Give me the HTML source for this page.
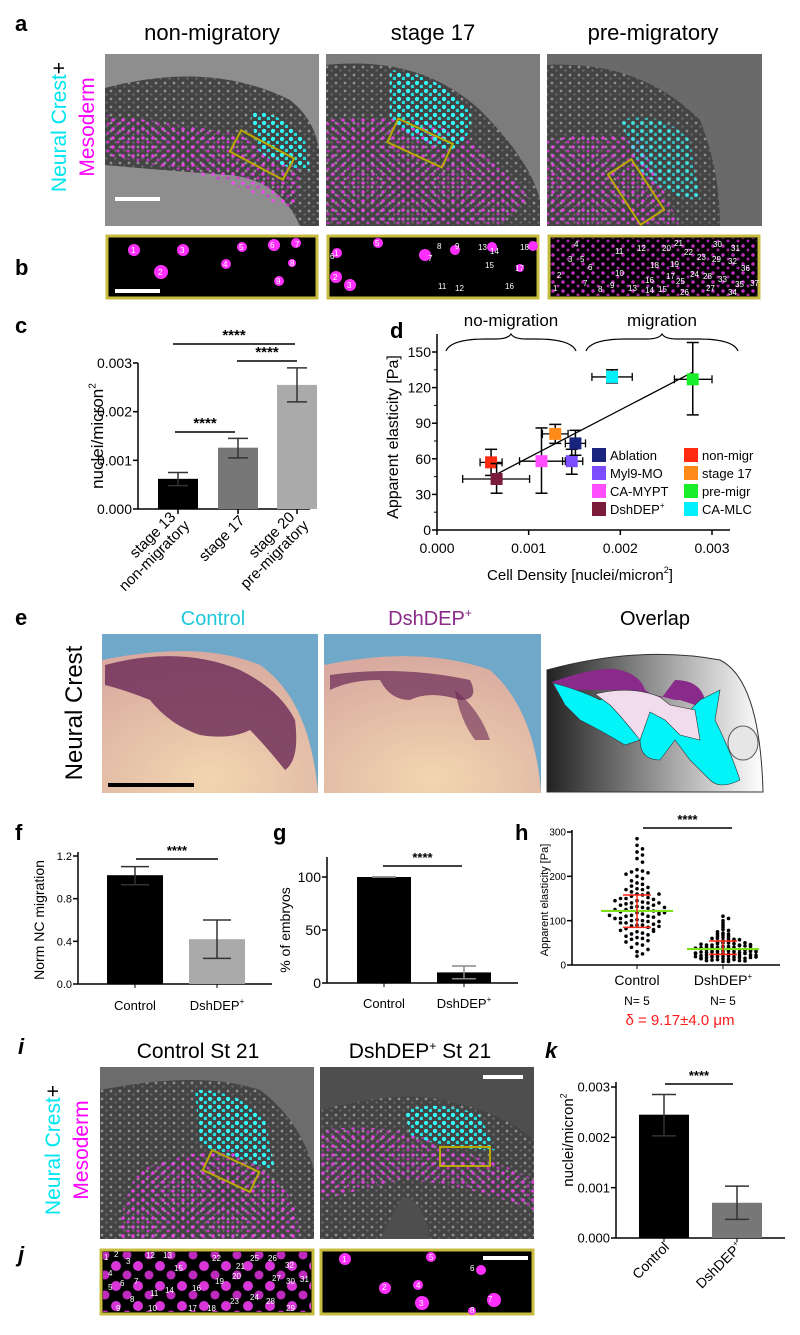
<!DOCTYPE html>
<html><head><meta charset="utf-8"><style>
body{margin:0;background:#fff}
svg text{font-family:"Liberation Sans",Arial,sans-serif}
</style></head><body>
<svg id="fig" width="800" height="1330" viewBox="0 0 800 1330" xmlns="http://www.w3.org/2000/svg">
<defs>
<pattern id="pw" width="9" height="8" patternUnits="userSpaceOnUse"><rect width="9" height="8" fill="#444"/><circle cx="3" cy="3" r="1.4" fill="#ccc" opacity=".55"/><circle cx="7.5" cy="6.5" r="1.1" fill="#999" opacity=".5"/></pattern>
<pattern id="pm" width="10" height="9" patternUnits="userSpaceOnUse"><circle cx="3" cy="3" r="1.8" fill="#ff40ff"/><circle cx="8" cy="7" r="1.5" fill="#e030e0"/></pattern>
<pattern id="pmj" width="22" height="20" patternUnits="userSpaceOnUse"><circle cx="6" cy="6" r="5" fill="#ff40ff"/><circle cx="17" cy="15" r="4.5" fill="#e030e0"/></pattern>
<pattern id="pc" width="9" height="8" patternUnits="userSpaceOnUse"><circle cx="3" cy="3" r="2.1" fill="#30ffff"/><circle cx="7.5" cy="6.5" r="1.8" fill="#20e0e0"/></pattern>
<linearGradient id="gov" x1="0" y1="0" x2="1" y2="0"><stop offset="0" stop-color="#222"/><stop offset="0.6" stop-color="#aaa"/><stop offset="1" stop-color="#fff"/></linearGradient>
<radialGradient id="gemb" cx="0.5" cy="0.9" r="0.9"><stop offset="0" stop-color="#f2d6b0"/><stop offset="1" stop-color="#d8aaa0"/></radialGradient>
</defs>

<!-- ===== Panel a ===== -->
<text x="15" y="31" font-size="22" font-weight="bold">a</text>
<text x="212" y="40" font-size="22" text-anchor="middle">non-migratory</text>
<text x="433" y="40" font-size="22" text-anchor="middle">stage 17</text>
<text x="653" y="40" font-size="22" text-anchor="middle">pre-migratory</text>
<text transform="translate(66,127) rotate(-90)" font-size="21" fill="#00e5f0" text-anchor="middle">Neural Crest<tspan fill="#000">+</tspan></text>
<text transform="translate(94,127) rotate(-90)" font-size="21" fill="#ff00ff" text-anchor="middle">Mesoderm</text>

<g>
<rect x="105" y="54" width="214" height="172" fill="#8e8e8e"/>
<path d="M105,88 Q210,60 290,100 Q315,120 319,150 L319,226 L300,226 Q280,180 230,175 Q160,170 105,165Z" fill="url(#pw)"/>
<path d="M105,115 Q190,125 240,135 L300,170 Q300,200 290,210 Q230,180 180,170 Q130,160 105,155Z" fill="url(#pm)" opacity=".85"/>
<path d="M250,112 Q280,110 305,140 L310,170 Q280,170 258,150Z" fill="url(#pc)"/>
<rect x="232" y="143" width="60" height="24" fill="none" stroke="#b8a800" stroke-width="2" transform="rotate(28 262 155)"/>
<rect x="115" y="197" width="45" height="4" fill="#fff"/>
</g>
<g>
<rect x="326" y="54" width="214" height="172" fill="#7c7c7c"/>
<path d="M326,65 Q420,55 480,110 Q530,160 540,200 L540,226 L326,226Z" fill="url(#pw)"/>
<path d="M326,120 Q420,110 470,140 Q510,170 530,200 L500,226 L326,226Z" fill="url(#pm)" opacity=".8"/>
<path d="M390,70 Q440,75 470,110 Q475,140 450,150 Q410,140 390,120Z" fill="url(#pc)"/>
<rect x="390" y="130" width="60" height="26" fill="none" stroke="#b8a800" stroke-width="2" transform="rotate(25 420 143)"/>
</g>
<g>
<rect x="547" y="54" width="215" height="172" fill="#6a6a6a"/>
<path d="M547,65 Q640,60 700,120 Q720,170 720,226 L547,226Z" fill="url(#pw)"/>
<path d="M547,140 Q600,130 640,140 L680,226 L547,226Z" fill="url(#pm)" opacity=".8"/>
<path d="M620,120 Q660,110 690,140 L700,200 Q670,200 640,170Z" fill="url(#pc)" opacity=".7"/>
<rect x="622" y="162" width="28" height="60" fill="none" stroke="#b8a800" stroke-width="2" transform="rotate(-33 636 192)"/>
</g>

<!-- ===== Panel b ===== -->
<text x="15" y="275" font-size="22" font-weight="bold">b</text>
<g>
<rect x="107" y="236" width="210" height="62" fill="#000" stroke="#c8bc40" stroke-width="3"/>
<circle cx="134" cy="250" r="6" fill="#ff30ff"/><circle cx="161" cy="272" r="7" fill="#ff30ff"/><circle cx="183" cy="250" r="6" fill="#ff30ff"/>
<circle cx="226" cy="264" r="5" fill="#ff30ff"/><circle cx="242" cy="247" r="5" fill="#ff30ff"/><circle cx="274" cy="245" r="6" fill="#ff30ff"/><circle cx="296" cy="243" r="5" fill="#ff30ff"/><circle cx="292" cy="263" r="4" fill="#ff30ff"/><circle cx="279" cy="281" r="5" fill="#ff30ff"/>
<rect x="115" y="289" width="45" height="4" fill="#fff"/>
</g>
<g>
<rect x="328" y="236" width="210" height="62" fill="#000" stroke="#c8bc40" stroke-width="3"/>
<circle cx="337" cy="253" r="5" fill="#ff30ff"/><circle cx="336" cy="277" r="6" fill="#ff30ff"/><circle cx="350" cy="285" r="6" fill="#ff30ff"/><circle cx="378" cy="243" r="5" fill="#ff30ff"/><circle cx="425" cy="255" r="6" fill="#ff30ff"/><circle cx="455" cy="250" r="5" fill="#ff30ff"/><circle cx="492" cy="247" r="5" fill="#ff30ff"/><circle cx="533" cy="246" r="5" fill="#ff30ff"/><circle cx="520" cy="268" r="4" fill="#ff30ff"/>
</g>
<g>
<rect x="549" y="236" width="210" height="62" fill="#000" stroke="#c8bc40" stroke-width="3"/>
<rect x="551" y="238" width="206" height="58" fill="url(#pm)" opacity=".75"/>
</g>
<g font-size="8" fill="#fff">
<text x="131" y="253">1</text><text x="158" y="275">2</text><text x="180" y="253">3</text><text x="223" y="267">4</text><text x="239" y="250">5</text><text x="270" y="248">6</text><text x="295" y="247">7</text><text x="290" y="266">8</text><text x="276" y="284">9</text>
<text x="334" y="256">1</text><text x="333" y="280">2</text><text x="347" y="288">3</text><text x="375" y="246">5</text><text x="330" y="259">6</text><text x="428" y="261">7</text><text x="437" y="249">8</text><text x="455" y="249">9</text><text x="478" y="250">13</text><text x="490" y="254">14</text><text x="485" y="268">15</text><text x="520" y="250">18</text><text x="515" y="271">17</text><text x="505" y="289">16</text><text x="438" y="289">11</text><text x="455" y="291">12</text>
<text x="574" y="247">4</text><text x="568" y="262">3</text><text x="580" y="262">5</text><text x="557" y="278">2</text><text x="553" y="291">1</text><text x="615" y="254">11</text><text x="637" y="251">12</text><text x="662" y="251">20</text><text x="674" y="246">21</text><text x="684" y="255">22</text><text x="697" y="260">23</text><text x="712" y="262">29</text><text x="713" y="247">30</text><text x="731" y="251">31</text><text x="728" y="264">32</text><text x="741" y="271">36</text><text x="615" y="276">10</text><text x="650" y="268">18</text><text x="670" y="267">19</text><text x="666" y="279">17</text><text x="645" y="283">16</text><text x="676" y="284">25</text><text x="690" y="277">24</text><text x="703" y="279">28</text><text x="718" y="282">33</text><text x="735" y="287">35</text><text x="750" y="286">37</text><text x="610" y="288">9</text><text x="628" y="291">13</text><text x="645" y="293">14</text><text x="658" y="292">15</text><text x="680" y="295">26</text><text x="706" y="291">27</text><text x="728" y="295">34</text><text x="583" y="286">7</text><text x="598" y="292">8</text><text x="588" y="270">6</text>
</g>

<!-- ===== Panel c ===== -->
<text x="15" y="333" font-size="22" font-weight="bold">c</text>
<g id="chartC"></g>

<!-- ===== Panel d ===== -->
<text x="390" y="338" font-size="22" font-weight="bold">d</text>
<g id="chartD"></g>

<!-- ===== Panel e ===== -->
<text x="15" y="625" font-size="22" font-weight="bold">e</text>
<text x="213" y="625" font-size="20" fill="#1fc8d8" text-anchor="middle">Control</text>
<text x="430" y="625" font-size="20" fill="#8a2a8a" text-anchor="middle">DshDEP<tspan font-size="12" dy="-8">+</tspan></text>
<text x="655" y="625" font-size="20" text-anchor="middle">Overlap</text>
<text transform="translate(82,713) rotate(-90)" font-size="24" text-anchor="middle">Neural Crest</text>
<g>
<rect x="102" y="634" width="216" height="159" fill="#6fa8c8"/>
<path d="M102,660 Q200,640 260,665 Q310,700 318,793 L102,793Z" fill="url(#gemb)"/>
<path d="M105,665 Q180,645 240,670 Q280,690 295,720 Q300,760 285,770 Q265,745 250,730 Q230,740 200,735 Q170,725 150,700 Q125,690 105,685Z" fill="#6a2856" opacity=".8"/>
<rect x="108" y="783" width="86" height="4" fill="#000"/>
</g>
<g>
<rect x="324" y="634" width="217" height="159" fill="#6fa8c8"/>
<path d="M324,665 Q420,645 490,670 Q535,710 541,793 L324,793Z" fill="url(#gemb)"/>
<path d="M330,675 Q400,665 470,680 Q480,700 460,700 Q430,690 410,700 Q390,700 380,680 Q350,680 330,690Z" fill="#6a2856" opacity=".7"/>
<path d="M455,690 Q480,710 490,740 L475,740 Q460,720 455,690Z" fill="#6a2856" opacity=".6"/>
</g>
<g>
<path d="M547,670 Q640,645 720,660 Q760,680 763,792 L547,792Z" fill="url(#gov)" stroke="#333"/>
<path d="M552,682 Q600,665 620,670 Q640,675 645,690 L660,700 L675,680 Q700,680 705,700 L695,705 L680,700 L675,700 Q640,690 610,690 Q580,690 556,690Z" fill="#8a2a8a"/>
<path d="M553,683 Q580,690 600,700 Q620,690 640,698 L665,705 L680,720 L700,700 L720,690 L715,720 Q730,750 740,780 Q720,790 710,780 L690,760 L675,740 L660,760 Q640,760 640,740 L625,745 Q600,730 580,720 L565,705Z" fill="#00f4f8" stroke="#333" stroke-width=".6"/>
<path d="M595,694 Q630,685 660,697 L670,705 L695,710 L700,740 L680,735 L665,720 L650,712 L640,740 Q620,715 610,705Z" fill="#f0dcec" stroke="#333" stroke-width=".6"/>
<ellipse cx="743" cy="743" rx="15" ry="17" fill="#e6e6e6" stroke="#555"/>
</g>

<!-- ===== Panels f g h ===== -->
<text x="15" y="840" font-size="22" font-weight="bold">f</text>
<text x="273" y="840" font-size="22" font-weight="bold">g</text>
<text x="515" y="840" font-size="22" font-weight="bold">h</text>
<g id="chartF"></g>
<g id="chartG"></g>
<g id="chartH"></g>

<!-- ===== Panel i / j ===== -->
<text x="18" y="1054" font-size="22" font-weight="bold" font-style="italic">i</text>
<text x="198" y="1058" font-size="21" text-anchor="middle">Control St 21</text>
<text x="420" y="1058" font-size="21" text-anchor="middle">DshDEP<tspan font-size="12" dy="-8">+</tspan><tspan dy="8"> St 21</tspan></text>
<text transform="translate(60,1150) rotate(-90)" font-size="21" fill="#00e5f0" text-anchor="middle">Neural Crest<tspan fill="#000">+</tspan></text>
<text transform="translate(88,1150) rotate(-90)" font-size="21" fill="#ff00ff" text-anchor="middle">Mesoderm</text>
<g>
<rect x="100" y="1067" width="214" height="172" fill="#6c6c6c"/>
<path d="M100,1090 Q200,1070 260,1090 Q300,1120 314,1170 L314,1239 L100,1239Z" fill="url(#pw)"/>
<path d="M140,1170 Q190,1150 230,1150 L280,1180 Q300,1210 300,1239 L120,1239 Q120,1200 140,1170Z" fill="url(#pm)" opacity=".85"/>
<path d="M195,1090 Q240,1090 265,1120 L275,1170 Q240,1160 200,1145Z" fill="url(#pc)"/>
<rect x="205" y="1160" width="52" height="22" fill="none" stroke="#b8a800" stroke-width="2" transform="rotate(25 231 1171)"/>
</g>
<g>
<rect x="320" y="1067" width="214" height="172" fill="#4e4e4e"/>
<path d="M320,1110 Q400,1090 440,1100 Q500,1110 534,1140 L534,1239 L430,1239 Q420,1190 400,1200 L380,1239 L320,1239Z" fill="url(#pw)"/>
<path d="M320,1130 Q400,1120 450,1150 Q500,1160 534,1180 L534,1210 Q450,1180 400,1180 L320,1200Z" fill="url(#pm)" opacity=".8"/>
<path d="M405,1110 Q440,1100 480,1115 L495,1150 Q450,1150 410,1135Z" fill="url(#pc)"/>
<rect x="440" y="1147" width="50" height="19" fill="none" stroke="#b8a800" stroke-width="2"/>
<rect x="483" y="1075" width="40" height="4" fill="#fff"/>
</g>
<text x="18" y="1262" font-size="22" font-weight="bold" font-style="italic">j</text>
<g>
<rect x="101" y="1250" width="212" height="64" fill="#000" stroke="#c8bc40" stroke-width="3"/>
<rect x="103" y="1252" width="208" height="60" fill="url(#pmj)" opacity=".85"/>
</g>
<g>
<rect x="321" y="1250" width="212" height="64" fill="#000" stroke="#c8bc40" stroke-width="3"/>
<circle cx="345" cy="1259" r="6" fill="#ff30ff"/><circle cx="385" cy="1288" r="6" fill="#ff30ff"/><circle cx="422" cy="1303" r="7" fill="#ff30ff"/><circle cx="418" cy="1285" r="5" fill="#ff30ff"/><circle cx="431" cy="1257" r="5" fill="#ff30ff"/><circle cx="481" cy="1270" r="5" fill="#ff30ff"/><circle cx="494" cy="1300" r="7" fill="#ff30ff"/><circle cx="472" cy="1311" r="4" fill="#ff30ff"/>
<rect x="483" y="1256" width="45" height="4" fill="#fff"/>
</g>
<g font-size="8" fill="#fff">
<text x="104" y="1260">1</text><text x="114" y="1257">2</text><text x="126" y="1264">3</text><text x="146" y="1258">12</text><text x="163" y="1258">13</text><text x="174" y="1271">15</text><text x="212" y="1261">22</text><text x="250" y="1261">25</text><text x="268" y="1261">26</text><text x="285" y="1268">32</text><text x="236" y="1269">21</text>
<text x="108" y="1290">5</text><text x="120" y="1286">6</text><text x="134" y="1284">7</text><text x="108" y="1276">4</text><text x="150" y="1296">11</text><text x="165" y="1293">14</text><text x="192" y="1291">16</text><text x="215" y="1284">19</text><text x="232" y="1279">20</text><text x="272" y="1281">27</text><text x="286" y="1284">30</text><text x="300" y="1282">31</text><text x="130" y="1302">8</text>
<text x="116" y="1311">9</text><text x="148" y="1311">10</text><text x="188" y="1311">17</text><text x="207" y="1311">18</text><text x="230" y="1304">23</text><text x="250" y="1300">24</text><text x="266" y="1304">28</text><text x="286" y="1311">29</text>
<text x="342" y="1262">1</text><text x="382" y="1290">2</text><text x="419" y="1306">3</text><text x="416" y="1288">4</text><text x="429" y="1260">5</text><text x="470" y="1271">6</text><text x="488" y="1302">7</text><text x="470" y="1313">8</text>
</g>

<!-- ===== Panel k ===== -->
<text x="545" y="1058" font-size="22" font-weight="bold" font-style="italic">k</text>
<g id="chartK"></g>
</svg>

<script>
// ---------- DATA ----------
const cCats = ["stage 13|non-migratory","stage 17","stage 20|pre-migratory"];
const cVals = [0.00062,0.00126,0.00255];
const cErrLo = [0.00048,0.00105,0.0022];
const cErrHi = [0.00075,0.00145,0.0029];
const cTicks = [0,0.001,0.002,0.003];

const dNames = ["non-migr","DshDEP+","CA-MYPT","stage 17","Myl9-MO","Ablation","CA-MLC","pre-migr"];
const dX = [0.00059,0.00065,0.00114,0.00129,0.00147,0.00151,0.00191,0.00279];
const dY = [57,43,58,81,58,73,129,127];
const dXlo = [0.00047,0.00028,0.00090,0.00115,0.00137,0.00140,0.00169,0.00259];
const dXhi = [0.00071,0.00101,0.00140,0.00143,0.00159,0.00162,0.00213,0.00300];
const dYlo = [46,31,31,73,47,63,124,97];
const dYhi = [68,56,86,89,68,84,135,158];
const dXTicks = [0,0.001,0.002,0.003];
const dYTicks = [0,30,60,90,120,150];
const dFit = [[0.00065,47],[0.00279,133]];

const fCats = ["Control","DshDEP+"];
const fVals = [1.02,0.42];
const fErrLo = [0.93,0.24];
const fErrHi = [1.10,0.60];
const fTicks = [0,0.4,0.8,1.2];

const gVals = [100,10];
const gErrLo = [100,4];
const gErrHi = [100,16];
const gTicks = [0,50,100];

const hCtrl = [285,270,262,255,248,240,232,215,212,210,208,205,200,195,190,185,182,178,175,172,170,165,162,160,158,155,152,150,148,145,142,140,140,138,135,132,130,130,128,125,122,120,120,118,115,112,110,110,108,105,102,100,100,98,95,92,90,90,88,85,82,80,78,75,72,70,68,65,62,60,58,55,52,48,45,40,35,30,25,20,150,135,125,115,105,95,160,170,140,130,145,118,112,98,87,76];
const hDsh = [110,105,100,95,90,85,80,78,75,72,70,68,65,62,60,60,58,55,55,52,50,50,48,48,45,45,45,42,42,40,40,40,38,38,36,36,35,35,34,33,32,32,30,30,30,28,28,27,26,25,25,24,23,22,22,20,20,19,18,18,17,16,15,15,14,13,12,12,11,10,10,9,8,8,60,55,50,44,41,37,33,29,26,21,17,14,70,65,57,47,43,39,31,27,23,19,46,42,38,34,30,26,22,18];
const hMean = [122,36];
const hSdLo = [85,24];
const hSdHi = [158,54];
const hTicks = [0,100,200,300];

const kVals = [0.00245,0.0007];
const kErrLo = [0.00203,0.00037];
const kErrHi = [0.00285,0.00103];
const kTicks = [0,0.001,0.002,0.003];

// ---------- helpers ----------
const NS="http://www.w3.org/2000/svg";
function mk(parent,tag,attrs,txt){const e=document.createElementNS(NS,tag);for(const k in attrs)e.setAttribute(k,attrs[k]);if(txt!==undefined)e.textContent=txt;parent.appendChild(e);return e;}
function lin(d0,d1,r0,r1){return v=>r0+(v-d0)*(r1-r0)/(d1-d0);}
function errbar(g,x,y1,y2,w,col){mk(g,"line",{x1:x,x2:x,y1:y1,y2:y2,stroke:col,"stroke-width":1.5});mk(g,"line",{x1:x-w,x2:x+w,y1:y1,y2:y1,stroke:col,"stroke-width":1.5});mk(g,"line",{x1:x-w,x2:x+w,y1:y2,y2:y2,stroke:col,"stroke-width":1.5});}
function yAxis(g,x,yTop,yBot,ticks,sy,fmt,fs){
  mk(g,"line",{x1:x,x2:x,y1:yTop,y2:yBot,stroke:"#000","stroke-width":1.5});
  ticks.forEach(t=>{const y=sy(t);mk(g,"line",{x1:x-5,x2:x,y1:y,y2:y,stroke:"#000","stroke-width":1.5});
    const tx=mk(g,"text",{x:x-6,y:y+fs*0.36,"font-size":fs,"text-anchor":"end"},fmt(t));
    
    });
}
function sig(g,x1,x2,y,fs){mk(g,"line",{x1:x1,x2:x2,y1:y,y2:y,stroke:"#000","stroke-width":1.5});mk(g,"text",{x:(x1+x2)/2,y:y-4,"font-size":fs||14,"text-anchor":"middle","font-weight":"bold"},"****");}
function supText(g,x,y,fs,main,sup){const t=mk(g,"text",{transform:`translate(${x},${y}) rotate(-90)`,"font-size":fs,"text-anchor":"middle"},main);mk(t,"tspan",{"font-size":fs*0.6,dy:-fs*0.45},sup);return t;}

// ---------- chart c ----------
(function(){
  const g=document.getElementById("chartC");
  const sy=lin(0,0.003,509,363);
  const xs=[178,238,297];
  const ax=138;
  mk(g,"line",{x1:ax,x2:310,y1:509,y2:509,stroke:"#000","stroke-width":1.5});
  yAxis(g,ax,363,509,cTicks,sy,t=>t.toFixed(3),14);
  const cols=["#000","#777","#aaa"];
  cVals.forEach((v,i)=>{
    const b=mk(g,"rect",{x:xs[i]-20,y:sy(v),width:40,height:509-sy(v),fill:cols[i]});
    
    
    errbar(g,xs[i],sy(cErrHi[i]),sy(cErrLo[i]),10,"#333");
    mk(g,"line",{x1:xs[i],x2:xs[i],y1:509,y2:514,stroke:"#000","stroke-width":1.5});
    const parts=cCats[i].split("|");
    const t=mk(g,"text",{transform:`translate(${xs[i]+4},${518}) rotate(-45)`,"font-size":15,"text-anchor":"end"});
    
    
    if(parts.length===1){mk(t,"tspan",{x:0,dy:5},parts[0]);}
    else{mk(t,"tspan",{x:-4,dy:-4},parts[0]);mk(t,"tspan",{x:0,dy:16},parts[1]);}
  });
  sig(g,173,295,344,15); sig(g,237,297,361,15); sig(g,175,235,432,15);
  supText(g,103,436,17,"nuclei/micron","2");
})();

// ---------- chart d ----------
(function(){
  const g=document.getElementById("chartD");
  const sx=lin(0,0.003,437,712), sy=lin(0,150,530,352);
  yAxis(g,437,334,530,dYTicks,sy,t=>String(t),14);
  mk(g,"line",{x1:437,x2:730,y1:530,y2:530,stroke:"#000","stroke-width":1.5});
  dXTicks.forEach(t=>{const x=sx(t);mk(g,"line",{x1:x,x2:x,y1:530,y2:535,stroke:"#000","stroke-width":1.5});
    const tx=mk(g,"text",{x:x,y:553,"font-size":14,"text-anchor":"middle"},t.toFixed(3));
    
    });
  for(let v=15;v<150;v+=30){mk(g,"line",{x1:434,x2:437,y1:sy(v),y2:sy(v),stroke:"#000"});}
  mk(g,"line",{x1:sx(dFit[0][0]),y1:sy(dFit[0][1]),x2:sx(dFit[1][0]),y2:sy(dFit[1][1]),stroke:"#000","stroke-width":1.3});
  const cols={"Ablation":"#1a237e","Myl9-MO":"#7c4dff","CA-MYPT":"#ff4dff","DshDEP+":"#7b1b3a","non-migr":"#ff2a10","stage 17":"#ff8a1a","pre-migr":"#1aee2a","CA-MLC":"#00f0ff"};
  dNames.forEach((n,i)=>{
    const x=sx(dX[i]),y=sy(dY[i]);
    mk(g,"line",{x1:sx(dXlo[i]),x2:sx(dXhi[i]),y1:y,y2:y,stroke:"#000","stroke-width":1.3});
    mk(g,"line",{x1:sx(dXlo[i]),x2:sx(dXlo[i]),y1:y-4,y2:y+4,stroke:"#000","stroke-width":1.3});
    mk(g,"line",{x1:sx(dXhi[i]),x2:sx(dXhi[i]),y1:y-4,y2:y+4,stroke:"#000","stroke-width":1.3});
    errbar(g,x,sy(dYhi[i]),sy(dYlo[i]),6,"#000");
    const p=mk(g,"rect",{x:x-6,y:y-6,width:12,height:12,fill:cols[n]});
    
    
  });
  const leg=[["Ablation",592,455],["Myl9-MO",592,473],["CA-MYPT",592,491],["DshDEP+",592,509],["non-migr",684,455],["stage 17",684,473],["pre-migr",684,491],["CA-MLC",684,509]];
  leg.forEach(l=>{
    const e=mk(g,"g",{});
    
    
    mk(e,"rect",{x:l[1],y:l[2]-7,width:14,height:14,fill:cols[l[0]]});
    const t=mk(e,"text",{x:l[1]+18,y:l[2]+5,"font-size":13},l[0]==="DshDEP+"?"DshDEP":l[0]);
    if(l[0]==="DshDEP+"){mk(t,"tspan",{"font-size":8,dy:-6},"+");}
  });
  function brace(x1,x2,y){const m=(x1+x2)/2;mk(g,"path",{d:`M${x1},${y+12} Q${x1+5},${y} ${x1+40},${y} L${m-15},${y} Q${m-3},${y} ${m},${y-5} Q${m+3},${y} ${m+15},${y} L${x2-40},${y} Q${x2-5},${y} ${x2},${y+12}`,fill:"none",stroke:"#000","stroke-width":1.2});}
  brace(446,576,339); brace(586,738,339);
  mk(g,"text",{x:511,y:326,"font-size":17,"text-anchor":"middle"},"no-migration");
  mk(g,"text",{x:662,y:326,"font-size":17,"text-anchor":"middle"},"migration");
  const yt=mk(g,"text",{transform:"translate(398,437) rotate(-90)","font-size":16,"text-anchor":"middle"},"Apparent elasticity [Pa]");
  
  
  const xt=mk(g,"text",{x:580,y:580,"font-size":15,"text-anchor":"middle"},"Cell Density [nuclei/micron");
  mk(xt,"tspan",{"font-size":9,dy:-7},"2");mk(xt,"tspan",{dy:7},"]");
  
  
})();

// ---------- chart f ----------
(function(){
  const g=document.getElementById("chartF");
  const sy=lin(0,1.2,984,856);
  const xs=[135,217];
  yAxis(g,78,852,984,fTicks,sy,t=>t.toFixed(1),11);
  mk(g,"line",{x1:78,x2:272,y1:984,y2:984,stroke:"#000","stroke-width":1.5});
  const cols=["#000","#aaa"];
  fVals.forEach((v,i)=>{
    const b=mk(g,"rect",{x:xs[i]-28,y:sy(v),width:56,height:984-sy(v),fill:cols[i]});
    
    
    errbar(g,xs[i],sy(fErrHi[i]),sy(fErrLo[i]),14,"#333");
    mk(g,"line",{x1:xs[i],x2:xs[i],y1:984,y2:988,stroke:"#000"});
  });
  sig(g,136,218,859,13);
  mk(g,"text",{x:135,y:1010,"font-size":13,"text-anchor":"middle"},"Control");
  const t=mk(g,"text",{x:217,y:1010,"font-size":13,"text-anchor":"middle"},"DshDEP");mk(t,"tspan",{"font-size":8,dy:-6},"+");
  mk(g,"text",{transform:"translate(44,920) rotate(-90)","font-size":14,"text-anchor":"middle"},"Norm NC migration");
})();

// ---------- chart g ----------
(function(){
  const g=document.getElementById("chartG");
  const sy=lin(0,100,983,877);
  const xs=[384,464];
  yAxis(g,327,857,983,gTicks,sy,t=>String(t),14);
  mk(g,"line",{x1:327,x2:518,y1:983,y2:983,stroke:"#000","stroke-width":1.5});
  gVals.forEach((v,i)=>{
    const b=mk(g,"rect",{x:xs[i]-27,y:sy(v),width:54,height:983-sy(v),fill:"#000"});
    
    
    errbar(g,xs[i],sy(gErrHi[i]),sy(gErrLo[i]),12,"#888");
    mk(g,"line",{x1:xs[i],x2:xs[i],y1:983,y2:987,stroke:"#000"});
  });
  sig(g,383,462,866,13);
  mk(g,"text",{x:384,y:1008,"font-size":13,"text-anchor":"middle"},"Control");
  const t=mk(g,"text",{x:464,y:1008,"font-size":13,"text-anchor":"middle"},"DshDEP");mk(t,"tspan",{"font-size":8,dy:-6},"+");
  mk(g,"text",{transform:"translate(290,930) rotate(-90)","font-size":14,"text-anchor":"middle"},"% of embryos");
})();

// ---------- chart h ----------
(function(){
  const g=document.getElementById("chartH");
  const sy=lin(0,300,965,832);
  const xs=[637,723];
  yAxis(g,572,830,965,hTicks,sy,t=>String(t),10);
  mk(g,"line",{x1:572,x2:780,y1:965,y2:965,stroke:"#000","stroke-width":1.5});
  const binSize=[14,6];
  [hCtrl,hDsh].forEach((arr,i)=>{
    const bins={};
    arr.forEach(v=>{
      const b=Math.round(v/binSize[i]);const k=bins[b]||0;bins[b]=k+1;
      const off=(k%2?1:-1)*Math.ceil(k/2)*5.5;
      const c=mk(g,"circle",{cx:xs[i]+off,cy:sy(v),r:1.8,fill:"#000"});
      
      
    });
    mk(g,"line",{x1:xs[i]-36,x2:xs[i]+36,y1:sy(hMean[i]),y2:sy(hMean[i]),stroke:"#7fe020","stroke-width":2.2});
    errbar(g,xs[i],sy(hSdHi[i]),sy(hSdLo[i]),14,"#ff2a1a");
    mk(g,"line",{x1:xs[i],x2:xs[i],y1:965,y2:969,stroke:"#000"});
  });
  sig(g,643,732,828,13);
  mk(g,"text",{x:637,y:985,"font-size":14,"text-anchor":"middle"},"Control");
  const t=mk(g,"text",{x:723,y:985,"font-size":14,"text-anchor":"middle"},"DshDEP");mk(t,"tspan",{"font-size":8,dy:-6},"+");
  mk(g,"text",{x:637,y:1005,"font-size":12,"text-anchor":"middle"},"N= 5");
  mk(g,"text",{x:723,y:1005,"font-size":12,"text-anchor":"middle"},"N= 5");
  mk(g,"text",{x:680,y:1025,"font-size":15,"text-anchor":"middle",fill:"#ff1a1a"},"δ =  9.17±4.0 μm");
  mk(g,"text",{transform:"translate(548,900) rotate(-90)","font-size":11,"text-anchor":"middle"},"Apparent elasticity [Pa]");
})();

// ---------- chart k ----------
(function(){
  const g=document.getElementById("chartK");
  const sy=lin(0,0.003,1238,1087);
  const xs=[664,737];
  yAxis(g,616,1082,1238,kTicks,sy,t=>t.toFixed(3),13);
  mk(g,"line",{x1:616,x2:785,y1:1238,y2:1238,stroke:"#000","stroke-width":1.5});
  const cols=["#000","#777"];
  kVals.forEach((v,i)=>{
    const b=mk(g,"rect",{x:xs[i]-25,y:sy(v),width:50,height:1238-sy(v),fill:cols[i]});
    
    
    errbar(g,xs[i],sy(kErrHi[i]),sy(kErrLo[i]),12,"#333");
    mk(g,"line",{x1:xs[i],x2:xs[i],y1:1238,y2:1242,stroke:"#000"});
  });
  sig(g,665,733,1084,13);
  mk(g,"text",{transform:`translate(${xs[0]+6},1248) rotate(-45)`,"font-size":14,"text-anchor":"end"},"Control");
  const t=mk(g,"text",{transform:`translate(${xs[1]+6},1248) rotate(-45)`,"font-size":14,"text-anchor":"end"},"DshDEP");mk(t,"tspan",{"font-size":8,dy:-6},"+");
  supText(g,573,1140,15,"nuclei/micron","2");
})();
</script>
</body></html>
